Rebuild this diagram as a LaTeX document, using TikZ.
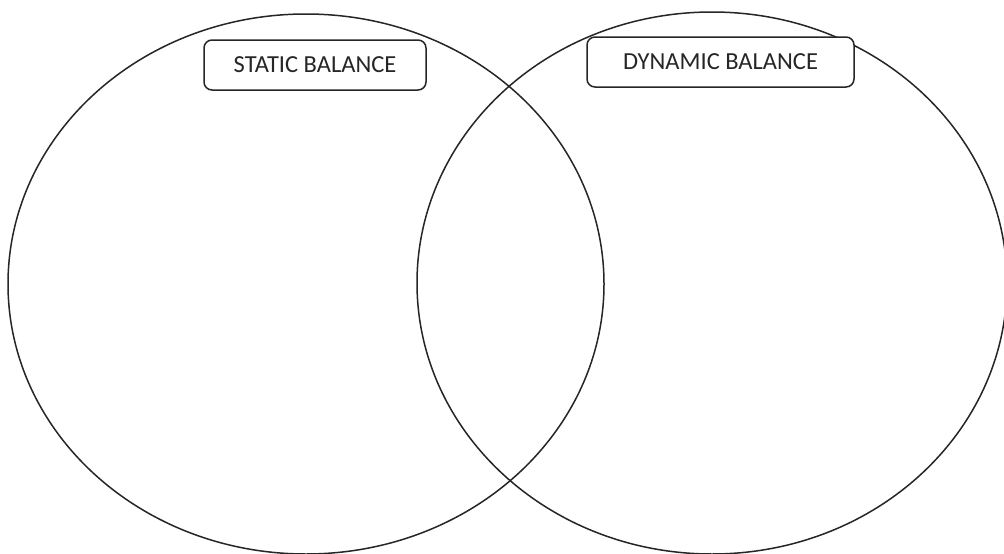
\documentclass[tikz,border=0pt]{standalone}
\usepackage{fontspec}
\setmainfont{Carlito}
\begin{document}
\begin{tikzpicture}[x=1pt,y=-1pt,
  circ/.style={draw=black!85, line width=1.5pt},
  labelbox/.style={draw=black!85, line width=1.5pt, fill=white, rounded corners=8pt,
    inner sep=0pt, text=black!85, font=\fontsize{24.5}{29}\selectfont}]
\useasboundingbox (0,0) rectangle (1004,554);
\clip (0,0) rectangle (1004,554);
\fill[white] (0,0) rectangle (1004,554);
\draw[circ] (306,284) ellipse [x radius=298, y radius=270];
\draw[circ] (712,283) ellipse [x radius=295, y radius=271];
\node[labelbox, minimum width=222pt, minimum height=50pt] (static) at (315,65) {STATIC BALANCE};
\node[labelbox, minimum width=267pt, minimum height=50pt] (dynamic) at (720.5,62) {DYNAMIC BALANCE};
\end{tikzpicture}
\end{document}
